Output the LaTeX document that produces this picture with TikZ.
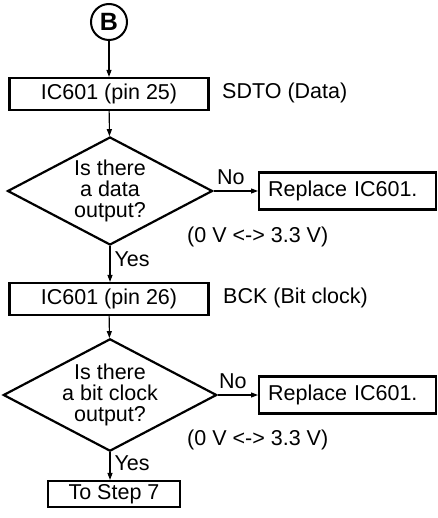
\documentclass[tikz,border=0pt]{standalone}
\usepackage{fontspec}
\setmainfont{Liberation Sans}
\usetikzlibrary{shapes.geometric,arrows.meta}

\begin{document}
\begin{tikzpicture}[
		x=1pt, y=-1pt,
		txt/.style={font=\fontsize{21.5}{21}\selectfont, inner sep=0pt},
		stepbox/.style={txt, draw, line width=2.2pt, minimum width=199pt, minimum height=32pt},
		endbox/.style={txt, draw, line width=2.2pt, minimum width=132pt, minimum height=26pt},
		fixbox/.style={txt, draw, line width=2.2pt, text width=159pt, align=left, inner xsep=9pt, minimum height=37pt},
		check/.style={txt, draw, diamond, line width=2.2pt, aspect=1.9, minimum width=205pt, minimum height=108pt, align=center},
		flow/.style={line width=1.1pt, -{Triangle[length=7pt,width=5pt]}}
		]
		\useasboundingbox (0, 0) rectangle (437, 518);
		
		% Connector B
		\node[draw, circle, line width=2pt, minimum size=36pt, inner sep=0pt, font=\fontsize{25}{25}\selectfont\bfseries] (conn) at (109, 22) {B};
		
		% First check: data output
		\node[stepbox] (pin25) at (109, 94) {IC601 (pin 25)};
		\node[txt, anchor=west] (sdto) at (222, 93) {SDTO (Data)};
		\node[check] (isdata) at (110, 191) {Is there\\a data\\output?};
		\node[fixbox, anchor=west] (fix1) at (258, 191) {Replace IC601.};
		\node[txt, anchor=west] (volt1) at (187, 237) {(0 V <-> 3.3 V)};
		
		% Second check: bit clock output
		\node[stepbox] (pin26) at (109, 299) {IC601 (pin 26)};
		\node[txt, anchor=west] (bck) at (223, 298) {BCK (Bit clock)};
		\node[check] (isbck) at (110, 395) {Is there\\a bit clock\\output?};
		\node[fixbox, anchor=west] (fix2) at (258, 395) {Replace IC601.};
		\node[txt, anchor=west] (volt2) at (187, 440) {(0 V <-> 3.3 V)};
		
		\node[endbox] (step7) at (114, 494) {To Step 7};
		
		% Arrows
		\draw[flow] (conn) -- (pin25);
		\draw[flow] (pin25) -- (isdata);
		\draw[flow] (isdata.east) -- node[txt, above=6pt, xshift=-5pt] {No} (fix1);
		\draw[flow] (isdata.south) -- node[txt, right=4pt, pos=0.38] {Yes} (isdata.south |- pin26.north);
		\draw[flow] (pin26) -- (isbck);
		\draw[flow] (isbck.east) -- node[txt, above=6pt, xshift=-5pt] {No} (fix2);
		\draw[flow] (isbck.south) -- node[txt, right=4pt, pos=0.4] {Yes} (isbck.south |- step7.north);
		
	\end{tikzpicture}
\end{document}
